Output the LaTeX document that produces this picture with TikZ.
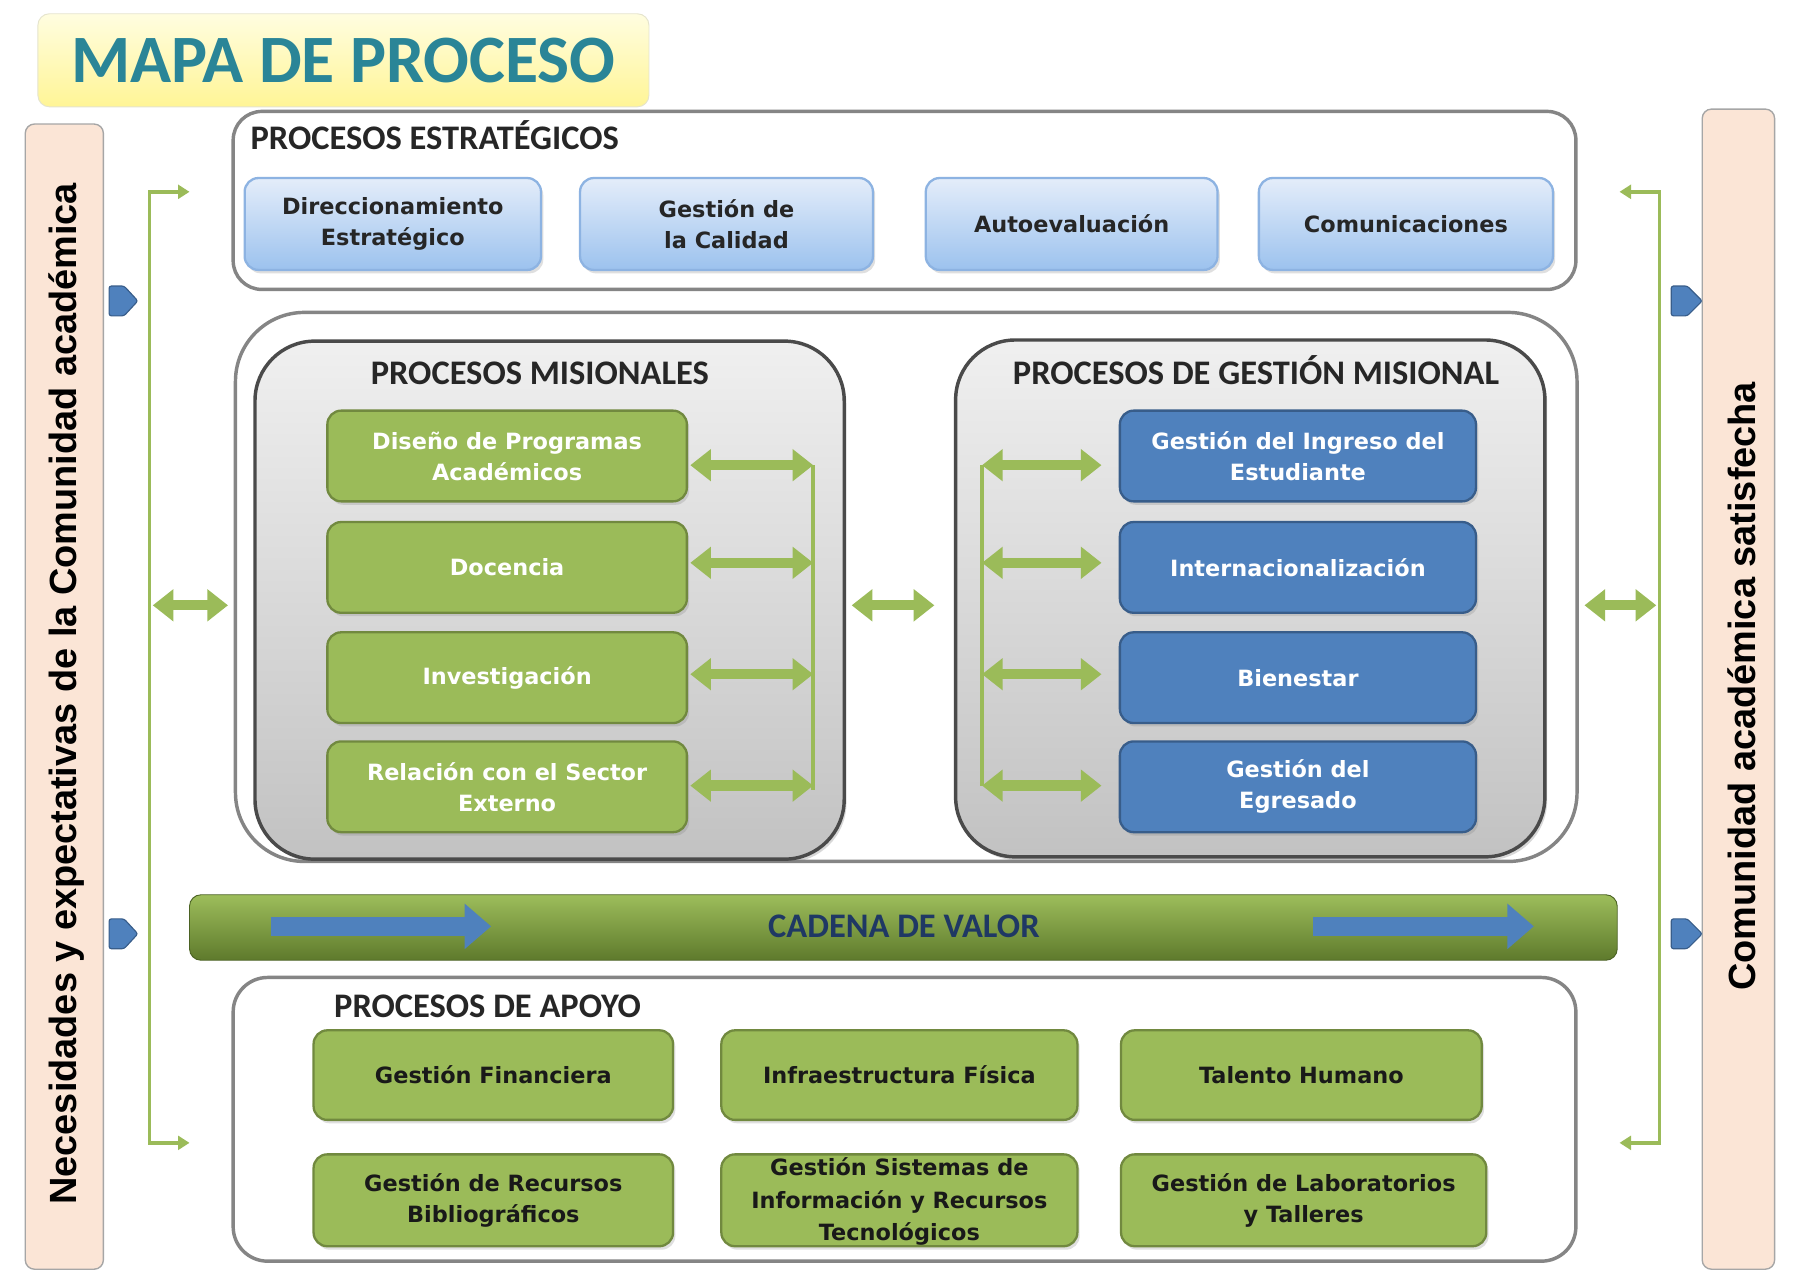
\documentclass[tikz,border=0pt]{standalone}
\usepackage{fontspec}
\setmainfont{Carlito}
\newfontfamily\boxfont{DejaVu Sans}
\newfontfamily\sidefont{Liberation Sans}
\usetikzlibrary{arrows.meta,shadows,calc}
\definecolor{gfill}{HTML}{9BBB59}
\definecolor{gdraw}{HTML}{71893F}
\definecolor{bfill}{HTML}{4F81BD}
\definecolor{bdraw}{HTML}{385D8A}
\definecolor{lbtop}{HTML}{E4EDFA}
\definecolor{lbbot}{HTML}{9CC2EE}
\definecolor{lbdraw}{HTML}{8DB3E2}
\definecolor{peach}{HTML}{FBE5D6}
\definecolor{teal}{HTML}{2A8597}
\definecolor{navy}{HTML}{1F3864}
\definecolor{frame}{HTML}{858585}
\definecolor{darkframe}{HTML}{4A4A4A}
\definecolor{ytop}{HTML}{FFFDE0}
\definecolor{ybot}{HTML}{FFF596}
\definecolor{cadtop}{HTML}{9DBD5B}
\definecolor{cadbot}{HTML}{5E7A2C}
\tikzset{
  titlebox/.style={draw=ytop!80!gray, line width=0.8pt, top color=ytop, bottom color=ybot, rounded corners=10pt, inner sep=0pt,
    font=\fontsize{59}{59}\selectfont\bfseries, text=teal},
  sidebar/.style={draw=gray!70, line width=1.2pt, fill=peach, rounded corners=8pt, inner sep=0pt},
  sidetext/.style={font=\sidefont\fontsize{33}{33}\selectfont\bfseries, text=black},
  container/.style={draw=frame, line width=3pt, fill=white, rounded corners=#1, inner sep=0pt},
  container/.default=25pt,
  graybox/.style={draw=darkframe, line width=3pt, top color=gray!12, bottom color=gray!48, rounded corners=52pt, inner sep=0pt,
    drop shadow={opacity=0.3, shadow xshift=2pt, shadow yshift=-3pt}},
  heading/.style={font=\fontsize{30}{30}\selectfont\bfseries, text=black!85, inner sep=0pt},
  procbox/.style={rounded corners=12pt, line width=2pt, align=center, inner sep=0pt,
    font=\boxfont\fontsize{19.5}{27}\selectfont\bfseries,
    drop shadow={opacity=0.25, shadow xshift=2pt, shadow yshift=-3pt}},
  lbbox/.style={procbox, draw=lbdraw, top color=lbtop, bottom color=lbbot, text=black!85},
  gbox/.style={procbox, draw=gdraw, fill=gfill, text=white},
  bbox/.style={procbox, draw=bdraw, fill=bfill, text=white},
  abox/.style={procbox, draw=gdraw, fill=gfill, text=black!90},
  dbl/.style={draw=gfill, line width=9pt, {Triangle[width=27pt,length=18pt]}-{Triangle[width=27pt,length=18pt]}},
  thinline/.style={draw=gfill, line width=3pt},
  thinarrows/.style={draw=gfill, line width=3pt, {Triangle[width=12pt,length=10pt]}-{Triangle[width=12pt,length=10pt]}},
  bluearrow/.style={draw=bfill, line width=17pt, -{Triangle[width=38pt,length=23pt]}},
  marker/.style={fill=bfill, draw=bdraw, line width=1pt, rounded corners=2pt}
}
\begin{document}
\begin{tikzpicture}[x=1pt,y=-1pt]
\useasboundingbox (0,0) rectangle (1568,1118);
\fill[white] (0,0) rectangle (1568,1118);

% title
\node[titlebox, minimum width=532pt, minimum height=81pt] (title) at (299,52.5) {\raisebox{-3pt}{MAPA DE PROCESO}};

% side bars
\node[sidebar, minimum width=68pt, minimum height=997pt] (left) at (56,606.5) {};
\node[sidetext, rotate=90] (lefttext) at (58,604) {Necesidades y expectativas de la Comunidad académica};
\node[sidebar, minimum width=63pt, minimum height=1010pt] (right) at (1513.5,600) {};
\node[sidetext, rotate=90] (righttext) at (1516,597.5) {Comunidad académica satisfecha};

% markers
\foreach \y in {262,813} {
  \draw[marker] (95,\y-13) -- (108,\y-13) -- (120,\y) -- (108,\y+13) -- (95,\y+13) -- cycle;
  \draw[marker] (1455,\y-13) -- (1469,\y-13) -- (1482,\y) -- (1469,\y+13) -- (1455,\y+13) -- cycle;
}

% brackets
\coordinate (lta) at (165,167);
\coordinate (lt) at (130,167);
\coordinate (lb) at (130,995);
\coordinate (lba) at (165,995);
\draw[thinarrows] (lta) -- (lt) -- (lb) -- (lba);
\coordinate (rta) at (1410,167);
\coordinate (rt) at (1445,167);
\coordinate (rb) at (1445,995);
\coordinate (rba) at (1410,995);
\draw[thinarrows] (rta) -- (rt) -- (rb) -- (rba);

% strategic processes
\node[container, minimum width=1169pt, minimum height=155pt] (estr) at (787.5,174.5) {};
\node[heading, anchor=base west] (estrlab) at (218,130) {PROCESOS ESTRATÉGICOS};
\node[lbbox, minimum width=258pt, minimum height=80pt] (e1) at (342,195) {Direccionamiento\\Estratégico};
\node[lbbox, minimum width=255pt, minimum height=80pt] (e2) at (632.5,195) {Gestión de\\la Calidad};
\node[lbbox, minimum width=254pt, minimum height=80pt] (e3) at (933,195) {Autoevaluación};
\node[lbbox, minimum width=256pt, minimum height=80pt] (e4) at (1224,195) {Comunicaciones};

% middle container
\node[container=60pt, minimum width=1168pt, minimum height=478pt] (mid) at (789,511) {};

% misionales
\node[graybox, minimum width=513pt, minimum height=451pt] (mis) at (478.5,522.5) {};
\node[heading, anchor=base] (mislab) at (470,334.5) {PROCESOS MISIONALES};
\node[gbox, minimum width=313pt, minimum height=79pt] (d1) at (441.5,397) {Diseño de Programas\\Académicos};
\node[gbox, minimum width=313pt, minimum height=79pt] (d2) at (441.5,494) {Docencia};
\node[gbox, minimum width=313pt, minimum height=79pt] (d3) at (441.5,590) {Investigación};
\node[gbox, minimum width=313pt, minimum height=79pt] (d4) at (441.5,685) {Relación con el Sector\\Externo};

% gestion misional
\node[graybox, minimum width=513pt, minimum height=450pt] (ges) at (1088.5,521) {};
\node[heading, anchor=base] (geslab) at (1093.5,334.5) {PROCESOS DE GESTIÓN MISIONAL};
\node[bbox, minimum width=310pt, minimum height=79pt] (i1) at (1130,397) {Gestión del Ingreso del\\Estudiante};
\node[bbox, minimum width=310pt, minimum height=79pt] (i2) at (1130,494) {Internacionalización};
\node[bbox, minimum width=310pt, minimum height=79pt] (i3) at (1130,590) {Bienestar};
\node[bbox, minimum width=310pt, minimum height=79pt] (i4) at (1130,685) {Gestión del\\Egresado};

% inner brackets
\coordinate (m1) at (708,405);
\coordinate (m2) at (708,490);
\coordinate (m3) at (708,587);
\coordinate (m4) at (708,684);
\coordinate (m0) at (708,688);
\draw[thinline] (m1) -- (m0);
\draw[dbl, shorten <=2pt] (d1.east |- m1) -- (m1);
\draw[dbl, shorten <=2pt] (d2.east |- m2) -- (m2);
\draw[dbl, shorten <=2pt] (d3.east |- m3) -- (m3);
\draw[dbl, shorten <=2pt] (d4.east |- m4) -- (m4);

\coordinate (g1) at (855,405);
\coordinate (g2) at (855,490);
\coordinate (g3) at (855,587);
\coordinate (g4) at (855,684);
\draw[thinline] (g1) -- (g4);
\draw[dbl, shorten >=15pt] (g1) -- (i1.west |- g1);
\draw[dbl, shorten >=15pt] (g2) -- (i2.west |- g2);
\draw[dbl, shorten >=15pt] (g3) -- (i3.west |- g3);
\draw[dbl, shorten >=15pt] (g4) -- (i4.west |- g4);

% big double arrows
\coordinate (midy) at (0,527);
\coordinate (lbr) at (133,527);
\coordinate (rbr) at (1442,527);
\draw[dbl, shorten >=5pt] (lbr) -- (mid.west |- midy);
\draw[dbl, shorten <=5pt, shorten >=17pt] (mis.east |- midy) -- (ges.west |- midy);
\draw[dbl, shorten <=5pt] (mid.east |- midy) -- (rbr);

% cadena de valor
\node[top color=cadtop, bottom color=cadbot, draw=cadbot!80!black, line width=0.8pt, rounded corners=10pt,
  minimum width=1243pt, minimum height=57pt, inner sep=0pt] (cad) at (786.5,807.5) {};
\node[heading, anchor=base, text=navy] (cadlab) at (787,816.5) {CADENA DE VALOR};
\draw[bluearrow] ($(cad.west)+(71,-1)$) -- ($(cad.west)+(263,-1)$);
\draw[bluearrow] ($(cad.east)+(-265,-1)$) -- ($(cad.east)+(-73,-1)$);

% apoyo
\node[container=30pt, minimum width=1169pt, minimum height=247pt] (apo) at (787.5,974.5) {};
\node[heading, anchor=base] (apolab) at (424.5,885.5) {PROCESOS DE APOYO};
\node[abox, minimum width=313pt, minimum height=78pt] (a1) at (429.5,936) {Gestión Financiera};
\node[abox, minimum width=310pt, minimum height=78pt] (a2) at (783,936) {Infraestructura Física};
\node[abox, minimum width=314pt, minimum height=78pt] (a3) at (1133,936) {Talento Humano};
\node[abox, minimum width=313pt, minimum height=80pt] (a4) at (429.5,1045) {Gestión de Recursos\\Bibliográficos};
\node[abox, minimum width=310pt, minimum height=80pt] (a5) at (783,1045) {};
\node[align=center, font=\boxfont\fontsize{19.5}{28}\selectfont\bfseries, text=black!90, inner sep=0pt, anchor=north] (a5t) at (783,1008) {Gestión Sistemas de\\Información y Recursos\\Tecnológicos};
\node[abox, minimum width=318pt, minimum height=80pt] (a6) at (1135,1045) {Gestión de Laboratorios\\y Talleres};
\end{tikzpicture}
\end{document}
